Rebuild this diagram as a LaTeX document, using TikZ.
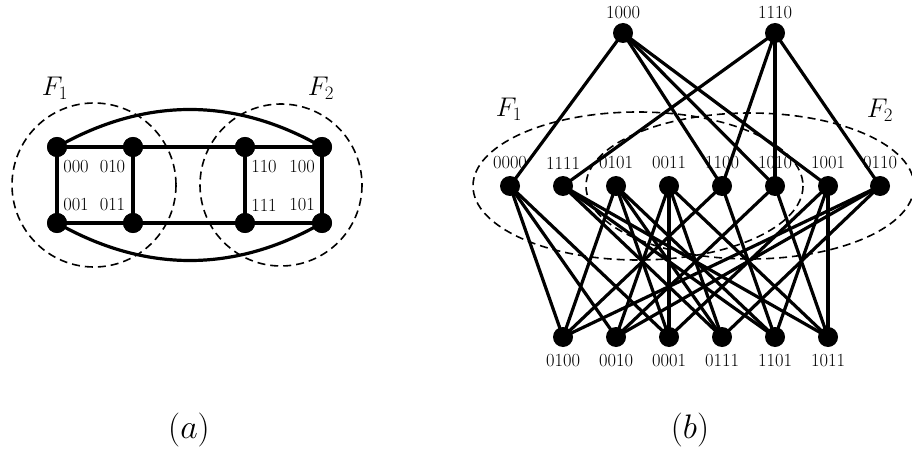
\documentclass[tikz,border=0pt]{standalone}
\usepackage{fix-cm}
\begin{document}
\begin{tikzpicture}[x=1pt,y=-1pt,
  dot/.style={circle,fill=black,inner sep=0pt,minimum size=20pt},
  lbl/.style={font=\fontsize{18.5}{20}\selectfont,inner sep=0pt},
  flbl/.style={font=\fontsize{27}{30}\selectfont,inner sep=0pt},
  captxt/.style={font=\fontsize{34}{38}\selectfont,inner sep=0pt,anchor=base},
  lnk/.style={line width=3.2pt},
  fam/.style={dash pattern=on 8pt off 5pt,line width=1.6pt}]
\useasboundingbox (0,0) rectangle (912,449);
\begin{scope}
\clip (0,0) rectangle (912,449);
% ---------------- (a) ----------------
\node[lbl] (l000) at (76,167) {000};
\node[lbl] (l010) at (112.5,167) {010};
\node[lbl] (l001) at (76,205) {001};
\node[lbl] (l011) at (112.5,205) {011};
\node[lbl] (l110) at (264,167) {110};
\node[lbl] (l100) at (302,167) {100};
\node[lbl] (l111) at (264,205) {111};
\node[lbl] (l101) at (302,205) {101};
\node[flbl] (aF1) at (55,88) {$F_1$};
\node[flbl] (aF2) at (321,88) {$F_2$};
\node[captxt] (capa) at (189,438) {$(a)$};
\draw[fam] (94,185) circle[radius=82];
\draw[fam] (281,185) circle[radius=81];
\node[dot] (a000) at (57,147) {};
\node[dot] (a010) at (133,147) {};
\node[dot] (a110) at (245,147) {};
\node[dot] (a100) at (322,147) {};
\node[dot] (a001) at (57,223) {};
\node[dot] (a011) at (133,223) {};
\node[dot] (a111) at (245,223) {};
\node[dot] (a101) at (322,223) {};
\draw[lnk] (a000.center) -- (a010.center) -- (a110.center) -- (a100.center) -- (a101.center) -- (a111.center) -- (a011.center) -- (a001.center) -- (a000.center);
\draw[lnk] (a010.center) -- (a011.center);
\draw[lnk] (a110.center) -- (a111.center);
\draw[lnk] (a000.center) .. controls (145,97) and (235,97) .. (a100.center);
\draw[lnk] (a001.center) .. controls (145,273) and (235,273) .. (a101.center);
\foreach \n in {000,010,110,100,001,011,111,101} \node[dot] at (a\n) {};
% ---------------- (b) ----------------
\node[lbl] (t1000) at (623,13) {1000};
\node[lbl] (t1110) at (775,13) {1110};
\foreach \n/\x in {0000/510,1111/563,0101/616,0011/669,1100/722,1010/775,1001/828,0110/880}
  \node[lbl] (t\n) at (\x,163) {\n};
\foreach \n/\x in {0100/563,0010/616,0001/669,0111/722,1101/775,1011/828}
  \node[lbl] (t\n) at (\x,361) {\n};
\node[flbl] (bF1) at (509,109) {$F_1$};
\node[flbl] (bF2) at (880,110) {$F_2$};
\node[captxt] (capb) at (690,438) {$(b)$};
\draw[fam] (638,186) ellipse[x radius=165,y radius=74];
\draw[fam] (750,186) ellipse[x radius=164,y radius=73];
\node[dot] (v1000) at (623,33) {};
\node[dot] (v1110) at (775,33) {};
\foreach \n/\x in {0000/510,1111/563,0101/616,0011/669,1100/722,1010/775,1001/828,0110/880}
  \node[dot] (v\n) at (\x,186) {};
\foreach \n/\x in {0100/563,0010/616,0001/669,0111/722,1101/775,1011/828}
  \node[dot] (v\n) at (\x,337) {};
\foreach \a/\b in {1000/0000,1000/1100,1000/1010,1000/1001,
  1110/1111,1110/1100,1110/1010,1110/0110,
  0000/0100,0000/0010,0000/0001,
  1111/0111,1111/1101,1111/1011,
  0101/0100,0101/0001,0101/0111,0101/1101,
  0011/0010,0011/0001,0011/0111,0011/1011,
  1100/0100,1100/1101,
  1010/0010,1010/1011,
  1001/0001,1001/1101,1001/1011,
  0110/0100,0110/0010,0110/0111}
  \draw[lnk] (v\a.center) -- (v\b.center);
\end{scope}
\end{tikzpicture}
\end{document}
